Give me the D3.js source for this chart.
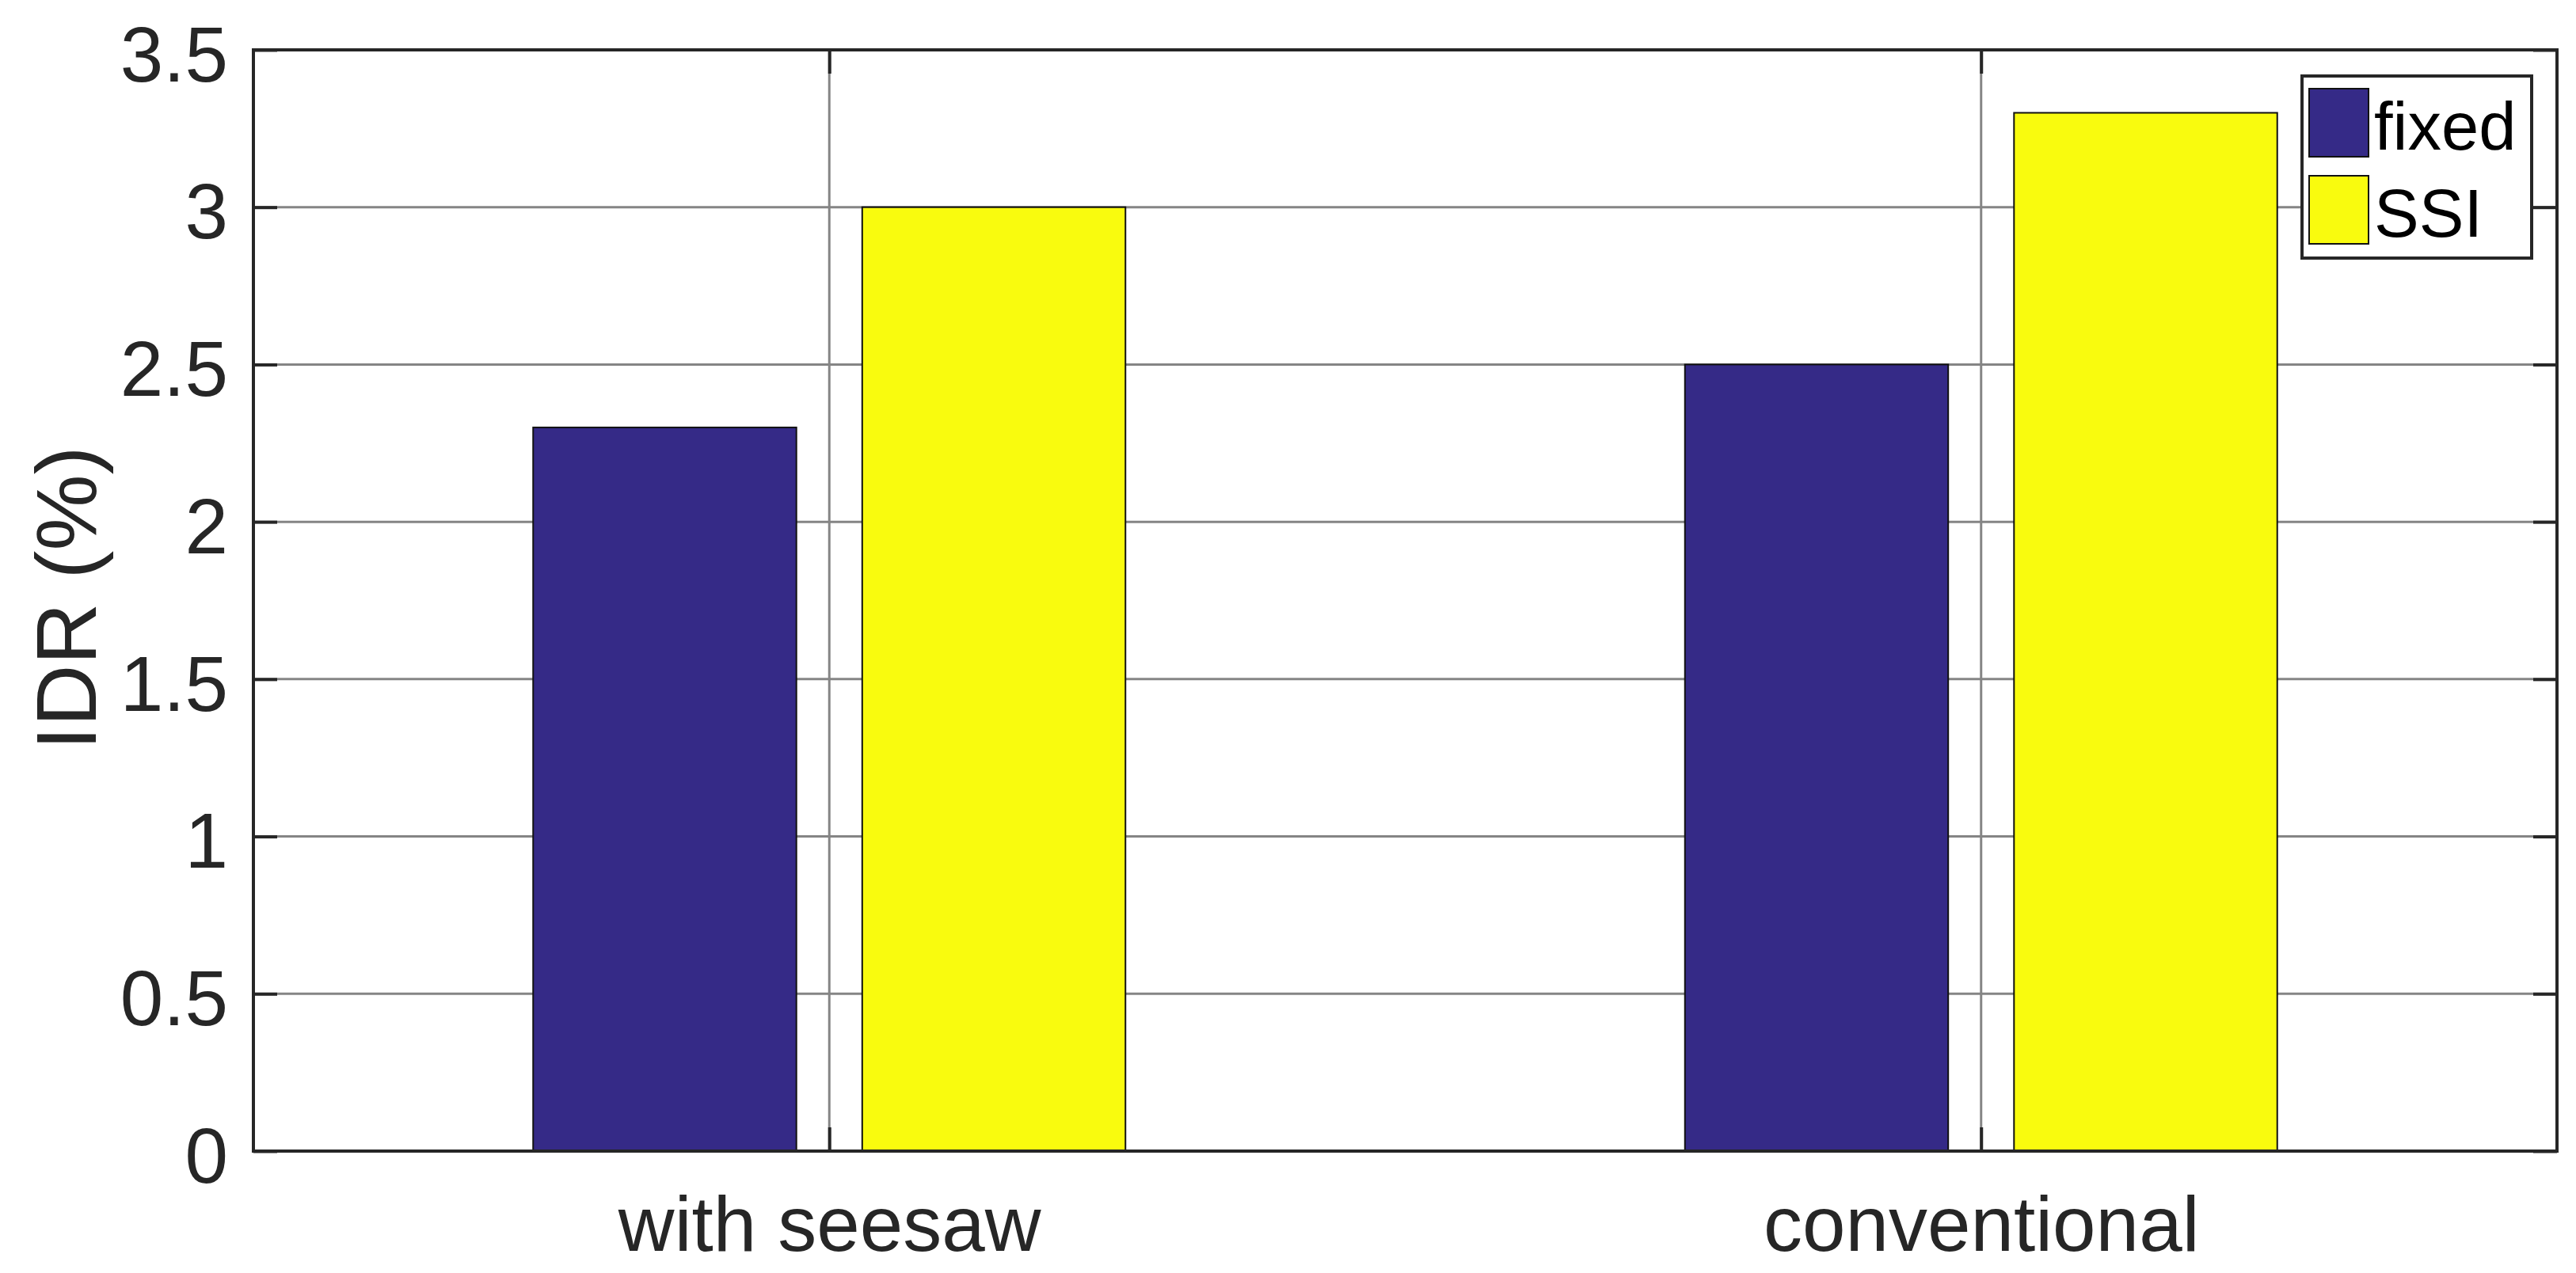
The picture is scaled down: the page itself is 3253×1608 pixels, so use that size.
<!DOCTYPE html>
<html>
<head>
<meta charset="utf-8">
<script src="https://cdn.jsdelivr.net/npm/d3@7"></script>
<style>
  html, body { margin: 0; padding: 0; background: #ffffff; }
  svg { display: block; }
</style>
</head>
<body>
<script>
// ---- data ----
const categories = ["with seesaw", "conventional"];
const seriesNames = ["fixed", "SSI"];
const fixedValues = [2.3, 2.5];
const ssiValues = [3.0, 3.3];
const seriesColors = ["#352A87", "#F9FB0E"];
const yTicks = [0, 0.5, 1, 1.5, 2, 2.5, 3, 3.5];
const yTickLabels = ["0", "0.5", "1", "1.5", "2", "2.5", "3", "3.5"];
const yLabel = "IDR (%)";

// ---- layout ----
const W = 3253, H = 1608;
const pLeft = 320, pRight = 3229, pTop = 63, pBottom = 1454;
const font = "'Liberation Sans', Arial, Helvetica, sans-serif";
const axisColor = "#262626";
const gridColor = "#858585";

const svg = d3.select("body").append("svg").attr("width", W).attr("height", H);
svg.append("rect").attr("width", W).attr("height", H).attr("fill", "#ffffff");

const x = d3.scaleLinear().domain([0.5, 2.5]).range([pLeft, pRight]);
const y = d3.scaleLinear().domain([0, 3.5]).range([pBottom, pTop]);
const inner = d3.scaleBand().domain(seriesNames).range([-0.2857, 0.2857]).paddingInner(0.2).paddingOuter(0.1);

const catPos = categories.map((c, i) => i + 1);

// ---- grid ----
const grid = svg.append("g");
grid.selectAll("line.h").data(yTicks.filter(v => v > 0 && v < 3.5)).enter().append("line")
  .attr("x1", pLeft).attr("x2", pRight)
  .attr("y1", d => y(d)).attr("y2", d => y(d))
  .attr("stroke", gridColor).attr("stroke-width", 3);
grid.selectAll("line.v").data(catPos).enter().append("line")
  .attr("x1", d => x(d)).attr("x2", d => x(d))
  .attr("y1", pTop).attr("y2", pBottom)
  .attr("stroke", gridColor).attr("stroke-width", 3);

// ---- bars ----
const seriesValues = [fixedValues, ssiValues];
const rows = [];
seriesNames.forEach((s, si) => {
  categories.forEach((c, ci) => rows.push({ s, si, pos: ci + 1, v: seriesValues[si][ci] }));
});
svg.append("g").selectAll("rect").data(rows).enter().append("rect")
  .attr("x", d => x(d.pos + inner(d.s)))
  .attr("width", d => x(d.pos + inner(d.s) + inner.bandwidth()) - x(d.pos + inner(d.s)))
  .attr("y", d => y(d.v))
  .attr("height", d => y(0) - y(d.v))
  .attr("fill", d => seriesColors[d.si])
  .attr("stroke", "#111111").attr("stroke-width", 2);

// ---- axes ----
function styleAxis(g) {
  g.select(".domain").remove();
  g.selectAll(".tick line").attr("stroke", axisColor).attr("stroke-width", 4);
  g.selectAll(".tick text").attr("fill", axisColor).style("font-family", font).style("font-size", "98px");
}
svg.append("g").attr("transform", `translate(${pLeft},0)`)
  .call(d3.axisLeft(y).tickValues(yTicks).tickFormat((d, i) => yTickLabels[i]).tickSizeInner(-30).tickSizeOuter(0).tickPadding(32))
  .call(styleAxis)
  .call(g => g.selectAll(".tick text").attr("dy", "0.4em"));
svg.append("g").attr("transform", `translate(${pRight},0)`)
  .call(d3.axisRight(y).tickValues(yTicks).tickFormat("").tickSizeInner(-30).tickSizeOuter(0))
  .call(styleAxis);
svg.append("g").attr("transform", `translate(0,${pBottom})`)
  .call(d3.axisBottom(x).tickValues(catPos).tickFormat((d) => categories[d - 1]).tickSizeInner(-30).tickSizeOuter(0).tickPadding(56))
  .call(styleAxis);
svg.append("g").attr("transform", `translate(0,${pTop})`)
  .call(d3.axisTop(x).tickValues(catPos).tickFormat("").tickSizeInner(-30).tickSizeOuter(0))
  .call(styleAxis);

// box
svg.append("rect").attr("x", pLeft).attr("y", pTop).attr("width", pRight - pLeft).attr("height", pBottom - pTop)
  .attr("fill", "none").attr("stroke", axisColor).attr("stroke-width", 4);

// y label
svg.append("text")
  .attr("transform", `translate(121,${(pTop + pBottom) / 2 - 3}) rotate(-90)`)
  .attr("text-anchor", "middle")
  .attr("fill", axisColor)
  .style("font-family", font).style("font-size", "108px")
  .text(yLabel);

// ---- legend ----
const lg = svg.append("g");
lg.append("rect").attr("x", 2907).attr("y", 96).attr("width", 290).attr("height", 230)
  .attr("fill", "#ffffff").attr("stroke", axisColor).attr("stroke-width", 4);
const items = lg.selectAll("g.item").data(seriesNames).enter().append("g")
  .attr("transform", (d, i) => `translate(2916,${112 + i * 110})`);
items.append("rect").attr("width", 75).attr("height", 86)
  .attr("fill", (d, i) => seriesColors[i]).attr("stroke", "#111111").attr("stroke-width", 2);
items.append("text").attr("x", 82).attr("y", 77)
  .attr("fill", "#000000")
  .style("font-family", font).style("font-size", "85px")
  .text(d => d);
</script>
</body>
</html>
